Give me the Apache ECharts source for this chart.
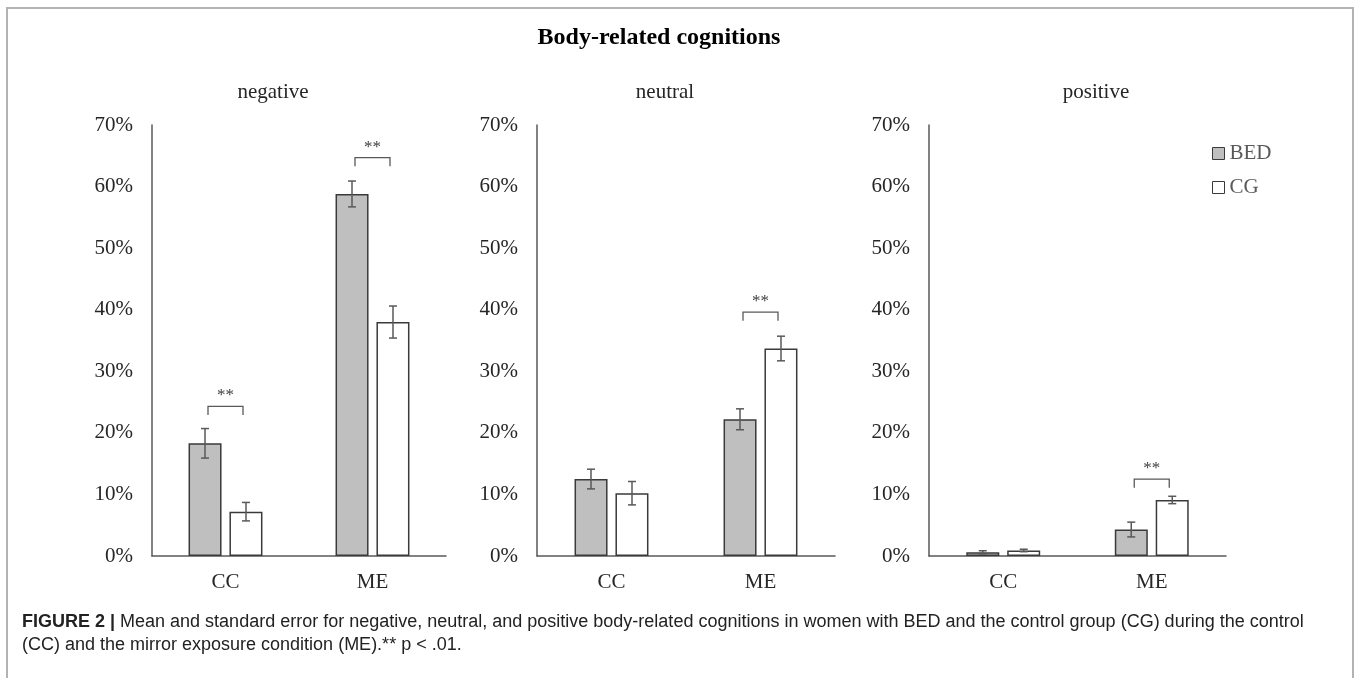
<!DOCTYPE html>
<html>
<head>
<meta charset="utf-8">
<script src="https://cdn.jsdelivr.net/npm/echarts@6/dist/echarts.min.js"></script>
<style>
  html, body { margin: 0; padding: 0; background: #fff; }
  #chart { width: 1357px; height: 678px; }
</style>
</head>
<body>
<div id="chart"></div>
<script>
// Conditions on the x axis and the three cognition panels
const categories = ['CC', 'ME'];
const panelNames = ['negative', 'neutral', 'positive'];

// Means (%) per panel, ordered [CC, ME]
const bedMeans = [[18.3, 58.8], [12.5, 22.2], [0.6, 4.3]];
const cgMeans  = [[7.2, 38.0], [10.2, 33.7], [0.9, 9.1]];

// Standard errors (%) per panel, ordered [CC, ME]
const bedErrors = [[2.4, 2.1], [1.6, 1.7], [0.25, 1.2]];
const cgErrors  = [[1.5, 2.6], [1.9, 2.0], [0.2, 0.6]];

// Significant differences (** p < .01): panel, condition, bracket height (%)
const sigPanels = [0, 0, 1, 2];
const sigCategories = [0, 1, 1, 1];
const sigLevels = [24.3, 64.7, 39.6, 12.5];

// Y axis range and step (%)
const yMin = 0, yMax = 70, yStep = 10;

const SERIF = '"Liberation Serif", "Times New Roman", serif';
const SANS = '"Liberation Sans", Arial, Helvetica, sans-serif';
const AXIS_GREY = '#595959';
const BAR_HALF_SPACING = 20.5;   // px from category centre to each bar centre
const CAP_HALF = 4;              // px, half width of error-bar caps
const BRACKET_HALF = 17.5;       // px, half width of significance brackets

const grids = [
  { left: 152, width: 294, top: 125, height: 431 },
  { left: 537, width: 298, top: 125, height: 431 },
  { left: 929, width: 297, top: 125, height: 431 }
];
// Horizontal anchor of each panel heading
const panelTitleCenters = [268, 660, 1091];

const chart = echarts.init(document.getElementById('chart'), null, { renderer: 'canvas' });

function errorBarItem(params, api) {
  const cat = api.value(0);
  const lo = api.coord([cat, api.value(1)]);
  const hi = api.coord([cat, api.value(2)]);
  const x = lo[0] + (api.value(3) ? BAR_HALF_SPACING : -BAR_HALF_SPACING);
  const style = { stroke: AXIS_GREY, lineWidth: 1.5 };
  return {
    type: 'group',
    children: [
      { type: 'line', shape: { x1: x, y1: lo[1], x2: x, y2: hi[1] }, style },
      { type: 'line', shape: { x1: x - CAP_HALF, y1: hi[1], x2: x + CAP_HALF, y2: hi[1] }, style },
      { type: 'line', shape: { x1: x - CAP_HALF, y1: lo[1], x2: x + CAP_HALF, y2: lo[1] }, style }
    ]
  };
}

function bracketItem(params, api) {
  const cat = api.value(0);
  const p = api.coord([cat, api.value(1)]);
  const leg = api.size([0, 1.4])[1];
  const x1 = p[0] - BRACKET_HALF, x2 = p[0] + BRACKET_HALF;
  return {
    type: 'group',
    children: [
      {
        type: 'polyline',
        shape: { points: [[x1, p[1] + leg], [x1, p[1]], [x2, p[1]], [x2, p[1] + leg]] },
        style: { stroke: AXIS_GREY, lineWidth: 1.3, fill: null }
      },
      {
        type: 'text',
        x: p[0], y: p[1] - 2,
        style: {
          text: '**', fill: '#404040', font: '17px ' + SERIF,
          align: 'center', verticalAlign: 'bottom'
        }
      }
    ]
  };
}

const xAxes = [], yAxes = [], series = [], titles = [];

grids.forEach((g, i) => {
  xAxes.push({
    type: 'category', gridIndex: i, data: categories,
    axisLine: { lineStyle: { color: AXIS_GREY, width: 1.5 } },
    axisTick: { show: false },
    axisLabel: { fontFamily: SERIF, fontSize: 21, color: '#262626', margin: 16 }
  });
  yAxes.push({
    type: 'value', gridIndex: i, min: yMin, max: yMax, interval: yStep,
    axisLine: { show: true, lineStyle: { color: AXIS_GREY, width: 1.5 } },
    axisTick: { show: false },
    splitLine: { show: false },
    axisLabel: { formatter: '{value}%', fontFamily: SERIF, fontSize: 21, color: '#262626', margin: 19 }
  });
  titles.push({
    text: panelNames[i],
    left: panelTitleCenters[i], top: 77,
    textAlign: 'center',
    textStyle: { fontFamily: SERIF, fontSize: 21, fontWeight: 'normal', color: '#262626' }
  });

  series.push({
    name: 'BED', type: 'bar', xAxisIndex: i, yAxisIndex: i,
    data: bedMeans[i], barWidth: 33, barGap: '24%',
    itemStyle: { color: '#bfbfbf', borderColor: '#3a3a3a', borderWidth: 1.5 },
    silent: true
  });
  series.push({
    name: 'CG', type: 'bar', xAxisIndex: i, yAxisIndex: i,
    data: cgMeans[i], barWidth: 33, barGap: '24%',
    itemStyle: { color: '#ffffff', borderColor: '#3a3a3a', borderWidth: 1.5 },
    silent: true
  });

  const errData = [];
  categories.forEach((c, k) => {
    errData.push([k, bedMeans[i][k] - bedErrors[i][k], bedMeans[i][k] + bedErrors[i][k], 0]);
    errData.push([k, cgMeans[i][k] - cgErrors[i][k], cgMeans[i][k] + cgErrors[i][k], 1]);
  });
  series.push({
    type: 'custom', xAxisIndex: i, yAxisIndex: i, data: errData,
    renderItem: errorBarItem, silent: true, z: 5
  });

  const sigData = [];
  sigPanels.forEach((p, k) => { if (p === i) sigData.push([sigCategories[k], sigLevels[k]]); });
  series.push({
    type: 'custom', xAxisIndex: i, yAxisIndex: i, data: sigData,
    renderItem: bracketItem, silent: true, z: 5
  });
});

// Figure title
titles.unshift({
  text: 'Body-related cognitions',
  left: 654, top: 21, textAlign: 'center',
  textStyle: { fontFamily: SERIF, fontSize: 24, fontWeight: 'bold', color: '#000' }
});

chart.setOption({
  animation: false,
  backgroundColor: '#ffffff',
  title: titles,
  grid: grids,
  xAxis: xAxes,
  yAxis: yAxes,
  legend: {
    orient: 'vertical', left: 1207, top: 138, itemGap: 13,
    itemWidth: 12, itemHeight: 12, icon: 'rect',
    data: [
      { name: 'BED', itemStyle: { color: '#bfbfbf', borderColor: '#3a3a3a', borderWidth: 1 } },
      { name: 'CG', itemStyle: { color: '#ffffff', borderColor: '#3a3a3a', borderWidth: 1 } }
    ],
    textStyle: { fontFamily: SERIF, fontSize: 21, color: AXIS_GREY },
    selectedMode: false
  },
  graphic: [
    {
      type: 'rect', silent: true,
      shape: { x: 7, y: 8, width: 1346, height: 684 },
      style: { fill: null, stroke: '#b3b3b3', lineWidth: 2 }
    },
    {
      type: 'text', left: 22, top: 611, silent: true,
      style: {
        text: '{b|FIGURE 2 |} Mean and standard error for negative, neutral, and positive body-related cognitions in women with BED and the control group (CG) during the control\n(CC) and the mirror exposure condition (ME).** p < .01.',
        font: '18px ' + SANS,
        fill: '#222',
        lineHeight: 23,
        rich: { b: { fontWeight: 'bold', fontSize: 18, fontFamily: SANS, fill: '#222' } }
      }
    }
  ],
  series: series
});
</script>
</body>
</html>
